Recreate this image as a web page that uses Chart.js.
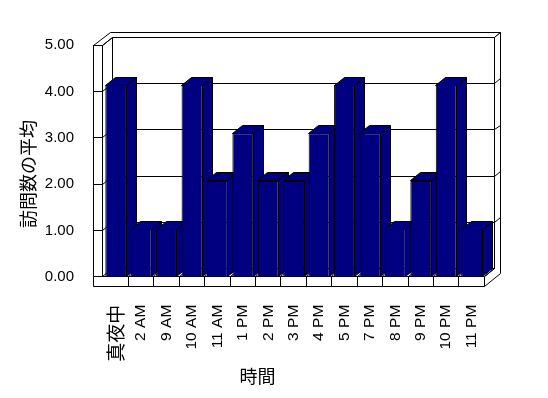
<!DOCTYPE html>
<html>
<head>
<meta charset="utf-8">
<script src="https://cdn.jsdelivr.net/npm/chart.js@4/dist/chart.umd.min.js"></script>
<style>
html,body{margin:0;padding:0;background:#fff;}
#wrap{width:548px;height:398px;position:relative;}
</style>
</head>
<body>
<div id="wrap"><canvas id="c" width="548" height="398"></canvas></div>
<script>
const categories = ['真夜中','2 AM','9 AM','10 AM','11 AM','1 PM','2 PM','3 PM','4 PM','5 PM','7 PM','8 PM','9 PM','10 PM','11 PM'];
const visitAverages = [4.14,1.03,1.03,4.14,2.07,3.10,2.07,2.07,3.10,4.14,3.10,1.03,2.07,4.14,1.03];
const yTickValues = [0,1,2,3,4,5];
const yTitle = '訪問数の平均';
const xTitle = '時間';

const NAVY = '#000080';
const D = {dx: 10, dy: -8};      // depth to back wall front face
const T = {dx: 6.5, dy: -4.8};   // back wall thickness
const WALL = 8.5;                // left wall thickness
const FLOOR = 10;                // floor thickness
const px = v => Math.floor(v) + 0.5;

function line(ctx, x1, y1, x2, y2) {
  ctx.beginPath(); ctx.moveTo(px(x1), px(y1)); ctx.lineTo(px(x2), px(y2)); ctx.stroke();
}
function poly(ctx, pts) {
  ctx.beginPath();
  pts.forEach((p, i) => i ? ctx.lineTo(px(p[0]), px(p[1])) : ctx.moveTo(px(p[0]), px(p[1])));
  ctx.closePath(); ctx.fill(); ctx.stroke();
}

const box3d = {
  id: 'box3d',
  beforeDatasetsDraw(chart) {
    const {ctx, chartArea: a, scales: {x, y}} = chart;
    const L = a.left, R = a.right, B = a.bottom, TOP = a.top;
    const Li = L - 0.7, Lo = Li - WALL;
    ctx.save();
    ctx.strokeStyle = '#000'; ctx.lineWidth = 1; ctx.fillStyle = '#fff';
    poly(ctx, [[Li + D.dx, TOP + D.dy], [R + D.dx, TOP + D.dy], [R + D.dx, B + D.dy], [Li + D.dx, B + D.dy]]);
    poly(ctx, [[Lo, TOP], [Lo + D.dx + T.dx, TOP + D.dy + T.dy], [R + D.dx + T.dx, TOP + D.dy + T.dy], [R + D.dx, TOP + D.dy], [Li + D.dx, TOP + D.dy], [Li, TOP]]);
    line(ctx, Li, TOP, Li + D.dx, TOP + D.dy);
    poly(ctx, [[R + D.dx, TOP + D.dy], [R + D.dx + T.dx, TOP + D.dy + T.dy], [R + D.dx + T.dx, B + FLOOR + D.dy + T.dy], [R, B + FLOOR], [R, B], [R + D.dx, B + D.dy]]);
    line(ctx, R, B, R + D.dx, B + D.dy);
    poly(ctx, [[Lo, TOP], [Li, TOP], [Li, B], [Lo, B]]);
    poly(ctx, [[Lo, B], [R, B], [R, B + FLOOR], [Lo, B + FLOOR]]);
    line(ctx, Li, B, Li + D.dx, B + D.dy);
    yTickValues.forEach(v => {
      const gy = y.getPixelForValue(v);
      line(ctx, Lo, gy, Li, gy);
      if (v > 0 && v < 5) {
        line(ctx, Li, gy, Li + D.dx, gy + D.dy);
        line(ctx, Li + D.dx, gy + D.dy, R + D.dx, gy + D.dy);
        line(ctx, R + D.dx, gy + D.dy, R + D.dx + T.dx, gy + D.dy + T.dy);
      }
    });
    const n = categories.length, cw = (R - L) / n;
    for (let k = 1; k < n; k++) {
      const bx = L + k * cw;
      line(ctx, bx, B, bx, B + FLOOR);
      line(ctx, bx, B, bx + D.dx, B + D.dy);
    }
    ctx.fillStyle = NAVY;
    const meta = chart.getDatasetMeta(0);
    meta.data.forEach(bar => {
      const {x: cx, y: ty, width: w, base} = bar.getProps(['x', 'y', 'width', 'base'], true);
      const l = cx - w / 2, r = cx + w / 2;
      poly(ctx, [[r, ty], [r + D.dx, ty + D.dy], [r + D.dx, base + D.dy], [r, base]]);
      poly(ctx, [[l, ty], [l + D.dx, ty + D.dy], [r + D.dx, ty + D.dy], [r, ty]]);
    });
    ctx.restore();
  },
  afterDraw(chart) {
    const {ctx} = chart;
    ctx.save();
    ctx.fillStyle = '#000';
    ctx.font = '18px "Noto Sans CJK JP", sans-serif';
    ctx.textAlign = 'center'; ctx.textBaseline = 'middle';
    ctx.fillText(xTitle, 257.5, 376.5);
    ctx.translate(28, 174);
    ctx.rotate(-Math.PI / 2);
    ctx.fillText(yTitle, 0, 0);
    ctx.restore();
  }
};

new Chart(document.getElementById('c'), {
  type: 'bar',
  data: {
    labels: categories,
    datasets: [{
      data: visitAverages,
      backgroundColor: NAVY,
      borderColor: '#000',
      borderWidth: 1,
      barPercentage: 0.82,
      categoryPercentage: 1
    }]
  },
  options: {
    responsive: false,
    animation: false,
    devicePixelRatio: 1,
    layout: {padding: {top: 45.3, right: 63.7, bottom: 0, left: 0}},
    plugins: {legend: {display: false}, tooltip: {enabled: false}},
    scales: {
      x: {
        grid: {display: false},
        border: {display: false},
        ticks: {
          color: '#000',
          autoSkip: false,
          minRotation: 90,
          maxRotation: 90,
          padding: 20,
          font: ctx => ctx.index === 0 ? {family: '"Noto Sans CJK JP", sans-serif', size: 19} : {family: '"Liberation Sans", Arial, sans-serif', size: 15.5}
        },
        afterFit: s => { s.height = 398 - 276.7; }
      },
      y: {
        min: 0, max: 5,
        grid: {display: false},
        border: {display: false},
        afterBuildTicks: s => { s.ticks = yTickValues.map(v => ({value: v})); },
        ticks: {
          color: '#000',
          padding: 21,
          font: {family: '"Liberation Sans", Arial, sans-serif', size: 15},
          callback: v => Number(v).toFixed(2)
        },
        afterFit: s => { s.width = 103; }
      }
    }
  },
  plugins: [box3d]
});
</script>
</body>
</html>
